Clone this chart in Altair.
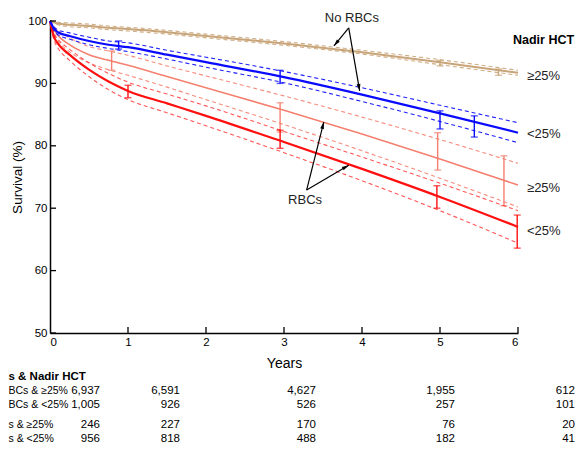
import math
import altair as alt
import pandas as pd

# ---------------- data ----------------
years = [0, 0.05, 0.1, 0.25, 0.5, 0.75, 1, 1.5, 2, 3, 4, 5, 6]

# No RBCs & nadir HCT >= 25%
norbc_ge25 = [100, 99.8, 99.6, 99.4, 99.2, 98.9, 98.7, 98.2, 97.6, 96.4, 95.0, 93.4, 91.7]
norbc_ge25_hi = [100, 99.9, 99.8, 99.7, 99.5, 99.2, 99.0, 98.5, 97.9, 96.7, 95.3, 93.8, 92.1]
norbc_ge25_lo = [100, 99.7, 99.4, 99.1, 98.9, 98.6, 98.4, 97.9, 97.3, 96.1, 94.7, 93.0, 91.3]
# No RBCs & nadir HCT < 25%
norbc_lt25 = [100, 98.8, 98.2, 97.6, 96.8, 96.2, 95.8, 94.6, 93.4, 91.0, 88.2, 85.2, 82.1]
norbc_lt25_hi = [100, 99.1, 98.6, 98.1, 97.4, 96.8, 96.5, 95.3, 94.2, 91.9, 89.3, 86.5, 83.7]
norbc_lt25_lo = [100, 98.5, 97.8, 97.1, 96.2, 95.6, 95.1, 93.9, 92.6, 90.1, 87.1, 83.9, 80.5]
# RBCs & nadir HCT >= 25%
rbc_ge25 = [100, 98.6, 97.7, 96.2, 94.6, 93.7, 92.9, 91.1, 89.3, 85.7, 81.9, 77.9, 73.7]
rbc_ge25_hi = [100, 99.1, 98.5, 97.3, 95.9, 95.2, 94.5, 92.8, 91.2, 88.0, 84.6, 81.0, 77.2]
rbc_ge25_lo = [100, 98.1, 96.9, 95.1, 93.3, 92.2, 91.3, 89.4, 87.4, 83.4, 79.2, 74.8, 70.2]
# RBCs & nadir HCT < 25%
rbc_lt25 = [100, 97.5, 96.4, 94.6, 92.2, 90.3, 88.8, 86.8, 84.8, 80.6, 76.3, 71.8, 67.0]
rbc_lt25_hi = [100, 98.0, 97.1, 95.5, 93.3, 91.6, 90.2, 88.3, 86.4, 82.3, 78.2, 74.0, 69.6]
rbc_lt25_lo = [100, 97.0, 95.7, 93.7, 91.1, 89.0, 87.4, 85.3, 83.2, 78.9, 74.4, 69.6, 64.4]

# error bars (x, low, high)
eb_norbc_ge25 = ([5.0, 5.75], [92.8, 91.3], [93.7, 92.3])
eb_norbc_lt25 = ([0.88, 2.95, 5.0, 5.44], [95.5, 90.0, 82.7, 81.4], [96.8, 92.1, 85.6, 84.8])
eb_rbc_ge25 = ([0.79, 2.95, 4.97, 5.82], [92.1, 82.2, 76.1, 70.4], [95.2, 86.9, 82.1, 78.4])
eb_rbc_lt25 = ([1.0, 2.95, 4.96, 5.99], [87.7, 79.6, 70.0, 63.6], [89.7, 82.5, 73.6, 68.9])

x_tick_values = [0, 1, 2, 3, 4, 5, 6]
y_tick_values = [50, 60, 70, 80, 90, 100]

# right-hand labels
right_labels = ["\u226525%", "<25%", "\u226525%", "<25%"]
right_label_y = [91.2, 81.9, 73.2, 66.3]

# table (numbers at risk)
table_rows = ["BCs & \u226525%", "BCs & <25%", "s & \u226525%", "s & <25%"]
table_header = "s & Nadir HCT"
table_values = [
    ["6,937", "6,591", "4,627", "1,955", "612"],
    ["1,005", "926", "526", "257", "101"],
    ["246", "227", "170", "76", "20"],
    ["956", "818", "488", "182", "41"],
]

# ---------------- layout helpers ----------------
PX_X = 78.0   # px per year
PX_Y = 6.24   # px per survival %
W, H = 468, 312

def px_to_x(px):
    return (px - 50) / PX_X

def px_to_y(py):
    return 100 - (py - 21) / PX_Y

xs = alt.Scale(domain=[0, 6], nice=False, zero=False)
ys = alt.Scale(domain=[50, 100], nice=False, zero=False)
X = alt.X("t:Q", scale=xs, axis=alt.Axis(title="Years", values=x_tick_values, format="d",
                                          ticks=False, grid=False, labelPadding=3,
                                          titlePadding=9, titleFontSize=14, titleFontWeight="normal"))
Y = alt.Y("v:Q", scale=ys, axis=alt.Axis(title="Survival (%)", values=y_tick_values, format="d",
                                          ticks=False, grid=False, labelPadding=3,
                                          titlePadding=3, titleFontSize=13.5, titleFontWeight="normal"))

BLUE = "#0a0aff"
RED = "#ff1010"
SALMON = "#f5806f"
TAN = "#c8a478"

series = [
    (norbc_ge25, norbc_ge25_hi, norbc_ge25_lo, eb_norbc_ge25, TAN, 2.0, 0.9),
    (rbc_ge25, rbc_ge25_hi, rbc_ge25_lo, eb_rbc_ge25, SALMON, 1.6, 0.9),
    (rbc_lt25, rbc_lt25_hi, rbc_lt25_lo, eb_rbc_lt25, RED, 2.2, 0.7),
    (norbc_lt25, norbc_lt25_hi, norbc_lt25_lo, eb_norbc_lt25, BLUE, 2.2, 0.9),
]

layers = []
for mid, hi, lo, eb, col, sw, dop in series:
    for band in (hi, lo):
        d = pd.DataFrame({"t": years, "v": band})
        layers.append(alt.Chart(d).mark_line(color=col, strokeWidth=1.1, strokeDash=[4, 3],
                                             opacity=dop, interpolate="monotone").encode(x=X, y=Y))
    d = pd.DataFrame({"t": years, "v": mid})
    layers.append(alt.Chart(d).mark_line(color=col, strokeWidth=sw, interpolate="monotone").encode(x=X, y=Y))
    e = pd.DataFrame({"t": eb[0], "v": eb[1], "v2": eb[2]})
    layers.append(alt.Chart(e).mark_rule(color=col, strokeWidth=1.4).encode(x=X, y=Y, y2="v2:Q"))
    layers.append(alt.Chart(e).mark_tick(color=col, orient="horizontal", size=7, thickness=1.4).encode(x=X, y=Y))
    e2 = pd.DataFrame({"t": eb[0], "v": eb[2]})
    layers.append(alt.Chart(e2).mark_tick(color=col, orient="horizontal", size=7, thickness=1.4).encode(x=X, y=Y))

# inward ticks
xt = pd.DataFrame({"t": x_tick_values[1:], "v": [50] * 6, "v2": [50 + 6 / PX_Y] * 6})
layers.append(alt.Chart(xt).mark_rule(color="black", strokeWidth=1.3).encode(x=X, y=Y, y2="v2:Q"))
yt = pd.DataFrame({"t": [0] * 6, "t2": [6 / PX_X] * 6, "v": y_tick_values})
layers.append(alt.Chart(yt).mark_rule(color="black", strokeWidth=1.3).encode(x=X, x2="t2:Q", y=Y))

# annotations with arrows
ann_text = pd.DataFrame({"t": [3.87, 3.27], "v": [100.5, 71.3], "label": ["No RBCs", "RBCs"]})
layers.append(alt.Chart(ann_text).mark_text(fontSize=13, align="center", baseline="middle", color="#222")
              .encode(x=X, y=Y, text="label:N"))
arrows = [((3.83, 98.9), (3.64, 96.0)), ((3.83, 98.9), (3.97, 88.8)),
          ((3.29, 72.9), (3.51, 83.8)), ((3.29, 72.9), (3.83, 76.9))]
ar = pd.DataFrame({"t": [a[0][0] for a in arrows], "v": [a[0][1] for a in arrows],
                   "t2": [a[1][0] for a in arrows], "v2": [a[1][1] for a in arrows]})
ar["ang"] = [(math.degrees(math.atan2((b[0] - a[0]) * PX_X, (b[1] - a[1]) * PX_Y)) + 360) % 360
             for a, b in arrows]
layers.append(alt.Chart(ar).mark_rule(color="black", strokeWidth=1.2).encode(x=X, y=Y, x2="t2:Q", y2="v2:Q"))
heads = ar[["t2", "v2", "ang"]].rename(columns={"t2": "t", "v2": "v"})
layers.append(alt.Chart(heads).mark_point(shape="M0,0L0.6,2.2L-0.6,2.2Z", size=40, filled=True,
                                          color="black", opacity=1)
              .encode(x=X, y=Y, angle=alt.Angle("ang:Q", scale=None)))

# right side labels
rh = pd.DataFrame({"t": [px_to_x(513)], "v": [px_to_y(40)], "label": ["Nadir HCT"]})
layers.append(alt.Chart(rh).mark_text(fontSize=12.5, fontWeight="bold", align="left", baseline="middle",
                                      color="black").encode(x=X, y=Y, text="label:N"))
rl = pd.DataFrame({"t": [px_to_x(527)] * 4, "v": right_label_y, "label": right_labels})
layers.append(alt.Chart(rl).mark_text(fontSize=13, align="left", baseline="middle", color="#222")
              .encode(x=X, y=Y, text="label:N"))

# table
row_py = [391, 405, 425, 439]
col_end_px = [100, 180, 316, 455, 575]
th = pd.DataFrame({"t": [px_to_x(8.5)], "v": [px_to_y(377)], "label": [table_header]})
layers.append(alt.Chart(th).mark_text(fontSize=11.5, fontWeight="bold", align="left", baseline="middle",
                                      color="black").encode(x=X, y=Y, text="label:N"))
trl = pd.DataFrame({"t": [px_to_x(8.5)] * 4, "v": [px_to_y(p) for p in row_py],
                    "label": table_rows})
layers.append(alt.Chart(trl).mark_text(fontSize=10.5, align="left", baseline="middle", color="black")
              .encode(x=X, y=Y, text="label:N"))
cells = []
for r, row in enumerate(table_values):
    for c, val in enumerate(row):
        cells.append({"t": px_to_x(col_end_px[c]), "v": px_to_y(row_py[r]), "label": val})
layers.append(alt.Chart(pd.DataFrame(cells)).mark_text(fontSize=11.5, align="right", baseline="middle",
                                                       color="black").encode(x=X, y=Y, text="label:N"))

chart = alt.layer(*layers).properties(
    width=W, height=H,
    padding={"left": 42, "top": 13, "right": 57, "bottom": 114},
    autosize=alt.AutoSizeParams(type="none"),
).configure(font="Liberation Sans").configure_view(stroke=None).configure_axis(
    domainColor="black", domainWidth=1.5, labelColor="black", titleColor="black",
    labelFontSize=11.5, labelFont="Liberation Sans", titleFont="Liberation Sans",
)

chart.save("out.html", embed_options={"renderer": "svg", "actions": False})
